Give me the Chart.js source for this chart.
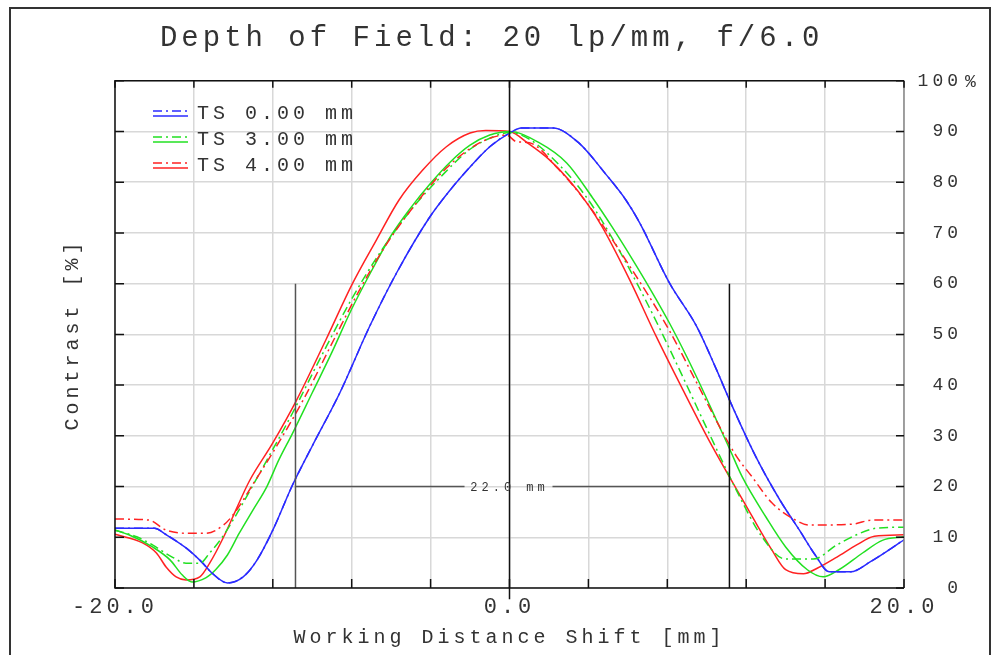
<!DOCTYPE html>
<html>
<head>
<meta charset="utf-8">
<script src="https://cdn.jsdelivr.net/npm/chart.js@4.4.0/dist/chart.umd.min.js"></script>
<style>
  html, body { margin: 0; padding: 0; background: #fff; }
  canvas { display: block; }
</style>
</head>
<body>
<canvas id="dof" width="999" height="655"></canvas>
<script>
// MTF contrast vs working distance shift, [shift mm, contrast %]
const ts0T = [[-20, 11.8], [-18, 11.8], [-17.4, 10.5], [-16.4, 7.9], [-15.6, 5.1], [-15.1, 3.0], [-14.3, 1.0],
  [-13.5, 2.2], [-12.8, 5.5], [-12, 11.4], [-11, 20.3], [-10, 28], [-8.6, 38.5], [-7.1, 51.5], [-5.7, 62.3],
  [-4.1, 72.8], [-3, 78.5], [-2, 83], [-1, 87], [0, 89.7], [0.6, 90.7], [2.2, 90.7], [3.5, 87.8], [4.9, 81.5],
  [5.9, 76.5], [6.6, 72], [8.1, 60.2], [9.5, 51.5], [10.5, 43], [11.15, 37.1], [12.5, 25.8], [13.7, 17.4],
  [14.7, 11.4], [15.5, 6.5], [16.2, 3.2], [17.3, 3.2], [18.3, 5.2], [20, 9.5]];
const ts3T = [[-20, 11.4], [-19.3, 10.5], [-18.1, 8.1], [-17.2, 5.5], [-16.6, 2.6], [-16.1, 1.2], [-15.4, 2.0],
  [-14.9, 3.6], [-14.3, 6.5], [-13.7, 10.8], [-13, 15.4], [-12.3, 20], [-11.7, 25.2], [-11, 30.5], [-10, 38.5],
  [-9, 46.5], [-8, 55], [-7, 62.5], [-6, 69.5], [-5, 75], [-4, 79.8], [-3, 84], [-2, 87.3], [-1, 89.3], [0, 90],
  [1.5, 87.8], [2.9, 83.8], [4.2, 77], [5.2, 71.2], [6.2, 65], [7.2, 58.5], [8.1, 52.3], [9, 45.5], [9.8, 39],
  [10.5, 33], [11.15, 27.5], [11.8, 21.9], [13, 14], [14, 8.1], [15.1, 3.6], [15.9, 2.2], [16.7, 3.6],
  [17.9, 6.9], [18.9, 9.4], [20, 10.1]];
const ts3S = [[-20, 11.4], [-18.9, 10.1], [-18.1, 8.5], [-17.1, 6.1], [-16.4, 4.9], [-15.7, 4.9], [-15.2, 6.9],
  [-14.6, 9.8], [-13.8, 14.8], [-12.5, 23.8], [-11, 34.5], [-9.5, 46], [-8, 57], [-6.5, 66.5], [-5, 74.5],
  [-3.5, 81], [-2, 86.5], [-0.8, 89], [0, 89.8], [1, 88.5], [2.5, 83.5], [4, 76.5], [5.5, 67], [7, 56],
  [8.5, 44], [10, 31.5], [11.5, 19.3], [12.8, 10.1], [14, 5.7], [15.4, 5.7], [16.6, 8.5], [17.6, 10.5],
  [18.6, 11.8], [20, 12]];
const ts4T = [[-20, 10.6], [-18.6, 8.9], [-17.9, 6.9], [-17.4, 4.1], [-16.9, 2.2], [-16.4, 1.6], [-15.7, 2.2],
  [-15.2, 4.9], [-14.5, 10], [-13.8, 16], [-13.2, 21], [-12, 28.6], [-10.8, 37], [-9.3, 49], [-7.95, 60.1],
  [-6.75, 68.6], [-5.6, 76.5], [-4.4, 82.4], [-3.2, 87], [-2, 89.7], [-1.2, 90.2], [0, 90], [1, 87.5],
  [2, 84.5], [3, 80.5], [4, 75.5], [4.7, 71.2], [6.1, 60.7], [7.45, 49.5], [8.8, 39], [10.1, 29.2],
  [11.15, 21.9], [12.2, 14.8], [13.3, 7.5], [14, 3.6], [14.9, 2.8], [15.6, 3.9], [16.6, 6.1], [17.6, 8.5],
  [18.5, 10.2], [20, 10.5]];
const ts4S = [[-20, 13.6], [-18.3, 13.4], [-17.4, 11.4], [-16.4, 10.8], [-15.4, 10.8], [-14.5, 12.4],
  [-13.9, 15], [-13, 20.5], [-11.8, 28], [-10.4, 37.5], [-8.9, 49], [-7.5, 59.5], [-6.2, 68], [-4.8, 75.5],
  [-3.2, 82.8], [-1.5, 87.8], [-0.15, 89.3], [0.35, 88], [1, 87.8], [2.5, 82.5], [4, 75.5], [6, 64],
  [8, 51.5], [9.5, 40.4], [10.65, 31.8], [11.5, 26], [12.3, 21.9], [13.3, 16.8], [14.5, 13.4], [15.2, 12.4],
  [17.4, 12.6], [18.4, 13.4], [20, 13.4]];

const seriesLabels = ['TS 0.00 mm', 'TS 3.00 mm', 'TS 4.00 mm'];
const seriesColors = ['#2b2bff', '#22e022', '#ff2222'];
const xLabels = [-20, 0, 20];
const dofNear = -10.85, dofFar = 11.15, dofLevel = 20, dofTop = 60, dofText = '22.0 mm';
const dofGap = [-2.28, 2.18];

const mono = "'Liberation Mono', 'DejaVu Sans Mono', monospace";
const ink = '#333';
const pts = a => a.map(p => ({x: p[0], y: p[1]}));
const dashDot = [9, 4, 2, 4];

function curve(data, color, dashed){
  return {
    data: pts(data), borderColor: color, borderWidth: 1.5, pointRadius: 0,
    borderDash: dashed ? dashDot : [], cubicInterpolationMode: 'monotone', fill: false
  };
}
function mark(data, color){
  return { data: data, borderColor: color, borderWidth: 1.5, pointRadius: 0, clip: false, fill: false };
}

const decor = {
  id: 'decor',
  beforeUpdate(chart){ chart.ctx.letterSpacing = '4px'; },
  beforeDraw(chart){
    const c = chart.ctx;
    c.letterSpacing = '4px';
    c.save();
    c.fillStyle = '#fff';
    c.fillRect(0, 0, chart.width, chart.height);
    c.restore();
  },
  afterDraw(chart){
    const c = chart.ctx, a = chart.chartArea, xs = chart.scales.x, ys = chart.scales.y;
    c.save();
    // outer frame
    c.strokeStyle = '#333'; c.lineWidth = 2;
    c.strokeRect(10, 8, 980, 660);
    // plot border
    c.lineWidth = 1.5;
    c.strokeStyle = '#888';
    c.beginPath(); c.moveTo(a.right, a.top); c.lineTo(a.right, a.bottom); c.stroke();
    c.strokeStyle = '#111';
    c.beginPath();
    c.moveTo(a.right, a.top); c.lineTo(a.left, a.top); c.lineTo(a.left, a.bottom); c.lineTo(a.right, a.bottom);
    c.stroke();
    // inward tick marks
    c.beginPath();
    xs.ticks.forEach(t => {
      const px = xs.getPixelForValue(t.value);
      c.moveTo(px, a.top); c.lineTo(px, a.top + 7);
      c.moveTo(px, a.bottom); c.lineTo(px, a.bottom - 9);
    });
    ys.ticks.forEach(t => {
      const py = ys.getPixelForValue(t.value);
      c.moveTo(a.left, py); c.lineTo(a.left + 9, py);
      c.moveTo(a.right, py); c.lineTo(a.right - 8, py);
    });
    c.stroke();
    // percent sign on top label
    c.fillStyle = ink;
    c.font = '18px ' + mono;
    c.textBaseline = 'middle'; c.textAlign = 'left';
    c.fillText('%', 965, ys.getPixelForValue(100) + 1);
    // depth-of-field label
    c.font = '12px ' + mono;
    c.textAlign = 'center';
    c.fillText(dofText, xs.getPixelForValue(0), ys.getPixelForValue(dofLevel) + 1);
    // legend
    c.font = '20px ' + mono;
    c.textAlign = 'left';
    seriesLabels.forEach((lab, i) => {
      const y = 113 + i * 26;
      c.strokeStyle = seriesColors[i]; c.lineWidth = 1.5;
      c.setLineDash(dashDot);
      c.beginPath(); c.moveTo(153, y - 2); c.lineTo(188, y - 2); c.stroke();
      c.setLineDash([]);
      c.beginPath(); c.moveTo(153, y + 3); c.lineTo(188, y + 3); c.stroke();
      c.fillStyle = ink;
      c.fillText(lab, 197, y + 1);
    });
    c.restore();
  }
};

new Chart(document.getElementById('dof').getContext('2d'), {
  type: 'line',
  data: {
    datasets: [
      mark([{x: 0, y: -2.2}, {x: 0, y: 100}], '#111'),
      mark([{x: dofNear, y: 0}, {x: dofNear, y: dofTop}], '#555'),
      mark([{x: dofFar, y: 0}, {x: dofFar, y: dofTop}], '#111'),
      mark([{x: dofNear, y: dofLevel}, {x: dofGap[0], y: dofLevel}], '#555'),
      mark([{x: dofGap[1], y: dofLevel}, {x: dofFar, y: dofLevel}], '#555'),
      curve(ts4S, seriesColors[2], true),
      curve(ts3S, seriesColors[1], true),
      curve(ts0T, seriesColors[0], true),
      curve(ts0T, seriesColors[0], false),
      curve(ts3T, seriesColors[1], false),
      curve(ts4T, seriesColors[2], false)
    ]
  },
  options: {
    responsive: false,
    devicePixelRatio: 1,
    animation: false,
    layout: { padding: { left: 0, top: 0, bottom: 0, right: 37 } },
    plugins: {
      legend: { display: false },
      tooltip: { enabled: false },
      title: {
        display: true,
        text: ' Depth of Field: 20 lp/mm, f/6.0',
        color: ink,
        font: { family: mono, size: 29, weight: 'normal', lineHeight: 1.2 },
        padding: { top: 21, bottom: 25 }
      }
    },
    scales: {
      x: {
        type: 'linear', min: -20, max: 20,
        afterFit: s => { s.height = 67; },
        ticks: {
          stepSize: 4, autoSkip: false, maxRotation: 0, padding: 6, color: ink,
          font: { family: mono, size: 22 },
          callback: v => xLabels.includes(v) ? v.toFixed(1) : ''
        },
        grid: { color: '#d8d8d8', lineWidth: 1.5, drawTicks: false },
        border: { display: false },
        title: {
          display: true, text: 'Working Distance Shift [mm]', color: ink,
          font: { family: mono, size: 20 }, padding: { top: 0, bottom: 5 }
        }
      },
      y: {
        position: 'right', min: 0, max: 100,
        afterFit: s => { s.width = 58; },
        ticks: {
          stepSize: 10, padding: 10, crossAlign: 'far', color: ink,
          font: { family: mono, size: 18 },
          callback: v => String(v)
        },
        grid: { color: '#d8d8d8', lineWidth: 1.5, drawTicks: false },
        border: { display: false }
      },
      yl: {
        position: 'left', min: 0, max: 100,
        afterFit: s => { s.width = 115; },
        ticks: { display: false },
        grid: { display: false, drawTicks: false },
        border: { display: false },
        title: {
          display: true, text: 'Contrast [%]', color: ink,
          font: { family: mono, size: 20 }, padding: { top: 61, bottom: 0 }
        }
      }
    }
  },
  plugins: [decor]
});
</script>
</body>
</html>
